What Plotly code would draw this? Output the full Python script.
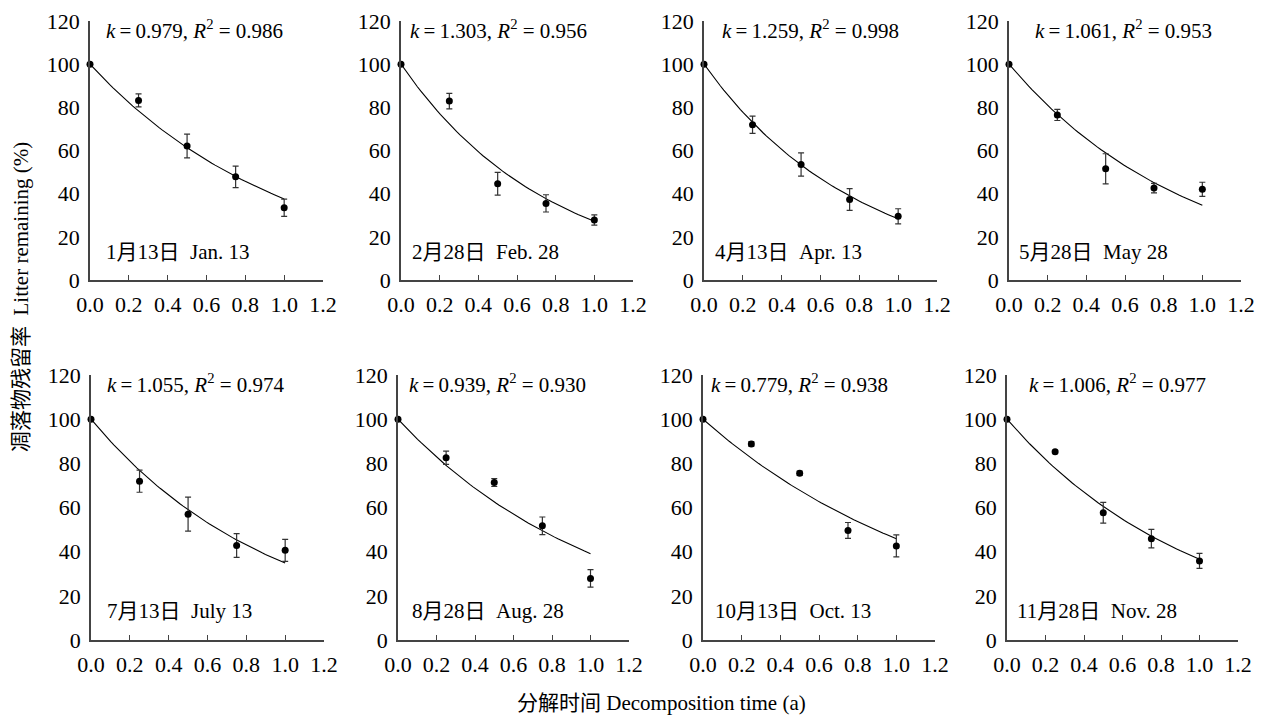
import plotly.graph_objects as go
import numpy as np

# ---- data ----
t_years = [0, 0.25, 0.5, 0.75, 1.0]
panel_cn = ["1月13日", "2月28日", "4月13日", "5月28日", "7月13日", "8月28日", "10月13日", "11月28日"]
panel_en = ["Jan. 13", "Feb. 28", "Apr. 13", "May 28", "July 13", "Aug. 28", "Oct. 13", "Nov. 28"]
k_vals = [0.979, 1.303, 1.259, 1.061, 1.055, 0.939, 0.779, 1.006]
r2_vals = [0.986, 0.956, 0.998, 0.953, 0.974, 0.930, 0.938, 0.977]

jan13 = [100, 83.2, 62.1, 47.8, 33.5]
jan13_err = [0, 3.0, 5.5, 5.0, 4.0]
feb28 = [100, 82.9, 44.6, 35.5, 27.8]
feb28_err = [0, 3.6, 5.3, 4.0, 2.4]
apr13 = [100, 71.9, 53.5, 37.3, 29.5]
apr13_err = [0, 4.0, 5.4, 5.0, 3.5]
may28 = [100, 76.5, 51.5, 42.6, 42.0]
may28_err = [0, 2.6, 7.0, 2.2, 3.3]
jul13 = [100, 71.9, 57.0, 42.8, 40.6]
jul13_err = [0, 5.0, 7.7, 5.4, 5.0]
aug28 = [100, 82.5, 71.3, 51.7, 27.9]
aug28_err = [0, 3.0, 1.8, 4.0, 4.0]
oct13 = [100, 88.8, 75.5, 49.6, 42.6]
oct13_err = [0, 1.0, 1.0, 3.6, 5.0]
nov28 = [100, 85.3, 57.6, 45.9, 35.8]
nov28_err = [0, 0.6, 4.7, 4.2, 3.4]

series = [jan13, feb28, apr13, may28, jul13, aug28, oct13, nov28]
errors = [jan13_err, feb28_err, apr13_err, may28_err, jul13_err, aug28_err, oct13_err, nov28_err]

x_ticks = [0, 0.2, 0.4, 0.6, 0.8, 1.0, 1.2]
y_ticks = [0, 20, 40, 60, 80, 100, 120]

# ---- layout geometry (screen pixels; page body adds an 8px offset) ----
OFF = 8
W, H = 1264 - OFF, 719 - OFF
x_px = [(90, 323), (401, 633), (704, 937), (1009, 1241),
        (91, 324), (398, 629), (703, 935), (1007, 1238)]
y_px = [(21, 280)] * 4 + [(375, 640)] * 4
k_left = [0.072, 0.036, 0.082, 0.124, 0.072, 0.047, 0.031, 0.104]
lab_left = [0.072, 0.047, 0.046, 0.040, 0.072, 0.062, 0.052, 0.040]


def px_x(v):
    return (v - OFF) / W


def px_y(v):
    return 1 - (v - OFF) / H


FONT = '"Liberation Serif", "Noto Sans CJK SC", serif'
fig = go.Figure()
t_fit = np.linspace(0, 1, 60)

for i in range(8):
    idx = "" if i == 0 else str(i + 1)
    xa, ya = "x" + idx, "y" + idx
    # fitted Olson model curve: 100*exp(-k t)
    fig.add_trace(go.Scatter(x=t_fit, y=100 * np.exp(-k_vals[i] * t_fit), mode="lines",
                             line=dict(color="black", width=1.1), xaxis=xa, yaxis=ya,
                             showlegend=False, hoverinfo="skip"))
    fig.add_trace(go.Scatter(x=t_years, y=series[i], mode="markers",
                             marker=dict(color="black", size=7),
                             error_y=dict(type="data", array=errors[i], visible=True,
                                          color="#333", thickness=1.2, width=3),
                             xaxis=xa, yaxis=ya, showlegend=False, cliponaxis=False))
    x0, x1 = x_px[i]
    yt, yb = y_px[i]
    fig.layout["xaxis" + idx] = dict(
        domain=[px_x(x0), px_x(x1)], anchor=ya, range=[0, 1.2], tickvals=x_ticks,
        tickformat=".1f", ticks="inside", ticklen=5, tickcolor="#444", automargin=False,
        showline=True, linecolor="#444", linewidth=1.5, showgrid=False, zeroline=False,
        tickfont=dict(family=FONT, size=22, color="black"), ticklabelstandoff=4,
        ticklabeloverflow="allow")
    fig.layout["yaxis" + idx] = dict(
        domain=[px_y(yb), px_y(yt)], anchor=xa, range=[0, 120], tickvals=y_ticks,
        ticks="", showline=True, linecolor="#444", linewidth=1.5, showgrid=False,
        zeroline=False, tickfont=dict(family=FONT, size=22, color="black"),
        ticklabelstandoff=4, automargin=False, ticklabeloverflow="allow")
    fig.add_annotation(x=k_left[i], y=116, xref=xa, yref=ya, xanchor="left", yanchor="middle",
                       text=f"<i>k</i>\u2009=\u2009{k_vals[i]:.3f}, <i>R</i><sup>2</sup> = {r2_vals[i]:.3f}",
                       showarrow=False, font=dict(family=FONT, size=21, color="black"))
    fig.add_annotation(x=lab_left[i], y=13, xref=xa, yref=ya, xanchor="left", yanchor="middle",
                       text=f"{panel_cn[i]}\u00a0\u00a0{panel_en[i]}",
                       showarrow=False, font=dict(family=FONT, size=21, color="black"))

fig.add_annotation(x=px_x(21), y=px_y(297), xref="paper", yref="paper", textangle=-90,
                   xanchor="center", yanchor="middle",
                   text="凋落物残留率\u00a0\u00a0Litter remaining (%)", showarrow=False,
                   font=dict(family=FONT, size=21, color="black"))
fig.add_annotation(x=px_x(661), y=px_y(703), xref="paper", yref="paper",
                   xanchor="center", yanchor="middle",
                   text="分解时间 Decomposition time (a)", showarrow=False,
                   font=dict(family=FONT, size=21, color="black"))

fig.update_layout(width=W, height=H, margin=dict(l=0, r=0, t=0, b=0),
                  plot_bgcolor="white", paper_bgcolor="white")
fig.write_html("out.html")
